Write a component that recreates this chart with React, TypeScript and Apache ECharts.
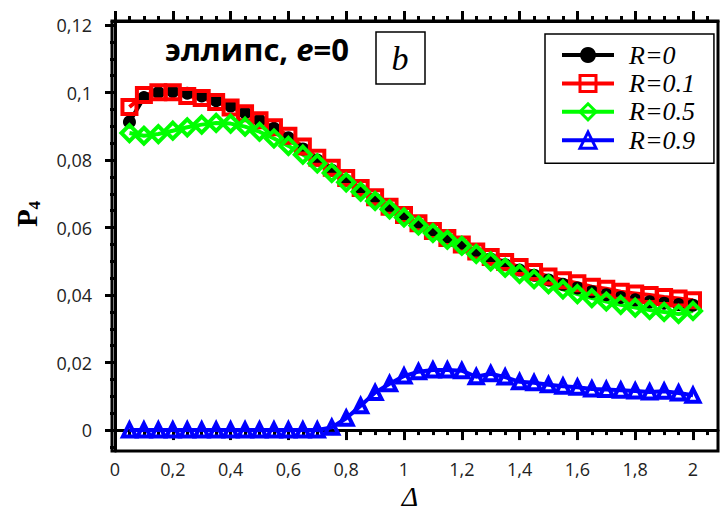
import React, { useEffect, useRef } from "react";
import * as echarts from "echarts";

const deltas = [
  0.05, 0.1, 0.15, 0.2, 0.25, 0.3, 0.35, 0.4, 0.45, 0.5,
  0.55, 0.6, 0.65, 0.7, 0.75, 0.8, 0.85, 0.9, 0.95, 1.0,
  1.05, 1.1, 1.15, 1.2, 1.25, 1.3, 1.35, 1.4, 1.45, 1.5,
  1.55, 1.6, 1.65, 1.7, 1.75, 1.8, 1.85, 1.9, 1.95, 2.0,
];

const r0 = [
  0.0913, 0.0985, 0.1, 0.1003, 0.0998, 0.099, 0.0976, 0.096, 0.094, 0.0918,
  0.0894, 0.0866, 0.0833, 0.08, 0.077, 0.074, 0.0711, 0.0684, 0.0657, 0.0632,
  0.0608, 0.0586, 0.0566, 0.0547, 0.0526, 0.0507, 0.049, 0.0474, 0.0459, 0.0445,
  0.0432, 0.0421, 0.041, 0.0401, 0.0393, 0.0386, 0.038, 0.0376, 0.0372, 0.037,
];

const r01 = [
  0.0957, 0.0993, 0.1001, 0.1001, 0.099, 0.0984, 0.0972, 0.0956, 0.0939, 0.0918,
  0.0897, 0.0872, 0.084, 0.0807, 0.0777, 0.0747, 0.0717, 0.069, 0.0662, 0.0637,
  0.0613, 0.059, 0.0569, 0.055, 0.0529, 0.0513, 0.0498, 0.0483, 0.0468, 0.0455,
  0.0444, 0.0435, 0.0425, 0.0419, 0.041, 0.0405, 0.04, 0.0394, 0.039, 0.0385,
];

const r05 = [
  0.088, 0.0872, 0.0877, 0.0887, 0.0897, 0.0905, 0.091, 0.0908, 0.0899, 0.0884,
  0.0864, 0.0842, 0.0816, 0.079, 0.0762, 0.0734, 0.0706, 0.0679, 0.0654, 0.063,
  0.0606, 0.0584, 0.0564, 0.0546, 0.0522, 0.05, 0.0481, 0.0463, 0.0447, 0.0432,
  0.0417, 0.0403, 0.0391, 0.0381, 0.0371, 0.0363, 0.0356, 0.035, 0.0344, 0.0353,
];

const r09 = [
  0, 0, 0, 0, 0, 0, 0, 0, 0, 0,
  0, 0, 0, 0, 0.0008, 0.0035, 0.0072, 0.0111, 0.0137, 0.016,
  0.0173, 0.0178, 0.0178, 0.0176, 0.0158, 0.0167, 0.0157, 0.0143, 0.014, 0.0134,
  0.013, 0.0127, 0.0122, 0.012, 0.0118, 0.0116, 0.0113, 0.0115, 0.011, 0.0103,
];

const seriesNames = ["R=0", "R=0.1", "R=0.5", "R=0.9"];
const xMajorTicks = [0, 0.2, 0.4, 0.6, 0.8, 1, 1.2, 1.4, 1.6, 1.8, 2];
const yMajorTicks = [0, 0.02, 0.04, 0.06, 0.08, 0.1, 0.12];

const X_MIN = -0.0104;
const X_MAX = 2.0865;
const Y_MIN = -0.0062;
const Y_MAX = 0.1212;

function range(start: number, end: number, step: number, digits: number) {
  const out: number[] = [];
  for (let v = start; v <= end + 1e-9; v += step) out.push(+v.toFixed(digits));
  return out;
}

const xMinorTicks = range(0, 2.05, 0.05, 2);
const yMinorTicks = range(-0.005, 0.12, 0.005, 3);

const fmt = (v: number) => String(v).replace(".", ",");

export default function App() {
  const ref = useRef<HTMLDivElement>(null);
  useEffect(() => {
    if (!ref.current) return;
    const chart = echarts.init(ref.current, null, { renderer: "svg" });
    const axisLine = { show: true, lineStyle: { color: "#000", width: 3 } };
    const baseX = {
      type: "value" as const,
      min: X_MIN,
      max: X_MAX,
      splitLine: { show: false },
    };
    const baseY = {
      type: "value" as const,
      min: Y_MIN,
      max: Y_MAX,
      splitLine: { show: false },
    };
    const mk = (color: string, symbol: string, size: number, filled: boolean) => ({
      type: "line" as const,
      symbol,
      symbolSize: size,
      showAllSymbol: true,
      lineStyle: { color, width: 4 },
      itemStyle: {
        color: filled ? color : "transparent",
        borderColor: color,
        borderWidth: filled ? 0 : 4,
      },
      emphasis: { disabled: true },
    });
    const dataOf = (arr: number[]) => deltas.map((d, i) => [d, arr[i]]);
    const legendColors = ["#000000", "#ff0000", "#00ff00", "#0000ff"];

    chart.setOption({
      animation: false,
      grid: {
        left: 112,
        right: 8,
        top: 21,
        bottom: 60,
        show: true,
        borderColor: "#000",
        borderWidth: 3,
        backgroundColor: "transparent",
      },
      xAxis: [
        {
          ...baseX,
          position: "bottom",
          axisLine,
          axisTick: {
            show: true,
            customValues: xMajorTicks,
            length: 10,
            lineStyle: { color: "#000", width: 3 },
          },
          axisLabel: {
            show: true,
            customValues: xMajorTicks,
            formatter: fmt,
            margin: 9,
            color: "#222",
            fontFamily: "Open Sans",
            fontSize: 18,
          },
        },
        {
          ...baseX,
          position: "bottom",
          axisLine: { show: false },
          axisTick: {
            show: true,
            customValues: xMinorTicks,
            length: 5,
            lineStyle: { color: "#000", width: 3 },
          },
          axisLabel: { show: false },
        },
        {
          ...baseX,
          position: "top",
          axisLine,
          axisTick: {
            show: true,
            customValues: xMajorTicks,
            length: 10,
            lineStyle: { color: "#000", width: 3 },
          },
          axisLabel: { show: false },
        },
        {
          ...baseX,
          position: "top",
          axisLine: { show: false },
          axisTick: {
            show: true,
            customValues: xMinorTicks,
            length: 5,
            lineStyle: { color: "#000", width: 3 },
          },
          axisLabel: { show: false },
        },
      ],
      yAxis: [
        {
          ...baseY,
          position: "left",
          axisLine,
          axisTick: {
            show: true,
            customValues: yMajorTicks,
            length: 10,
            lineStyle: { color: "#000", width: 3 },
          },
          axisLabel: {
            show: true,
            customValues: yMajorTicks,
            formatter: fmt,
            margin: 20,
            color: "#222",
            fontFamily: "Open Sans",
            fontSize: 18,
          },
        },
        {
          ...baseY,
          position: "left",
          axisLine: { show: false },
          axisTick: {
            show: true,
            customValues: yMinorTicks,
            length: 5,
            lineStyle: { color: "#000", width: 3 },
          },
          axisLabel: { show: false },
        },
      ],
      legend: {
        show: true,
        orient: "vertical",
        left: 545,
        top: 34,
        selectedMode: false,
        data: seriesNames.map((name, i) => ({
          name,
          itemStyle: {
            color: i === 0 ? legendColors[i] : "transparent",
            borderColor: legendColors[i],
            borderWidth: i === 0 ? 0 : 3,
          },
          lineStyle: { color: legendColors[i], width: 4 },
        })),
        itemWidth: 52,
        itemHeight: 20,
        itemGap: 2.4,
        padding: [8, 19, 10, 15],
        borderColor: "#000",
        borderWidth: 1.5,
        backgroundColor: "#fff",
        textStyle: {
          fontFamily: "Liberation Serif",
          fontStyle: "italic",
          fontSize: 26,
          lineHeight: 26,
          color: "#000",
          padding: [0, 0, 0, 10],
        },
      },
      series: [
        { name: seriesNames[0], ...mk(legendColors[0], "circle", 13, true), data: dataOf(r0) },
        { name: seriesNames[1], ...mk(legendColors[1], "rect", 14, false), data: dataOf(r01) },
        { name: seriesNames[2], ...mk(legendColors[2], "diamond", 16, false), data: dataOf(r05) },
        { name: seriesNames[3], ...mk(legendColors[3], "triangle", 13, false), data: dataOf(r09) },
      ],
      graphic: [
        {
          type: "text",
          left: 165,
          top: 33,
          style: {
            text: "{a|эллипс, }{b|e}{a|=0}",
            rich: {
              a: { fontFamily: "Open Sans", fontWeight: "bold", fontSize: 31, fill: "#000" },
              b: { fontFamily: "Open Sans", fontWeight: "bold", fontStyle: "italic", fontSize: 31, fill: "#000" },
            },
          },
        },
        {
          type: "rect",
          shape: { x: 376, y: 32, width: 49, height: 52 },
          style: { fill: "#fff", stroke: "#000", lineWidth: 1.5 },
        },
        {
          type: "text",
          x: 400,
          y: 58,
          style: {
            text: "b",
            fontFamily: "Liberation Serif",
            fontStyle: "italic",
            fontSize: 34,
            fill: "#000",
            align: "center",
            verticalAlign: "middle",
          },
        },
        {
          type: "text",
          x: 27,
          y: 214,
          rotation: Math.PI / 2,
          style: {
            text: "{p|P}{s|4}",
            align: "center",
            verticalAlign: "middle",
            rich: {
              p: { fontFamily: "Liberation Serif", fontWeight: "bold", fontSize: 29, lineHeight: 32, fill: "#000", verticalAlign: "middle" },
              s: { fontFamily: "Liberation Serif", fontWeight: "bold", fontSize: 17, lineHeight: 32, fill: "#000", verticalAlign: "bottom" },
            },
          },
        },
        {
          type: "text",
          x: 410,
          y: 496,
          style: {
            text: "Δ",
            fontFamily: "Liberation Serif",
            fontStyle: "italic",
            fontSize: 28,
            fill: "#000",
            align: "center",
            verticalAlign: "middle",
          },
        },
      ],
    });
    return () => chart.dispose();
  }, []);
  return (
    <div
      ref={ref}
      style={{ position: "fixed", left: 0, top: 0, width: 726, height: 511, background: "#fff" }}
    />
  );
}
